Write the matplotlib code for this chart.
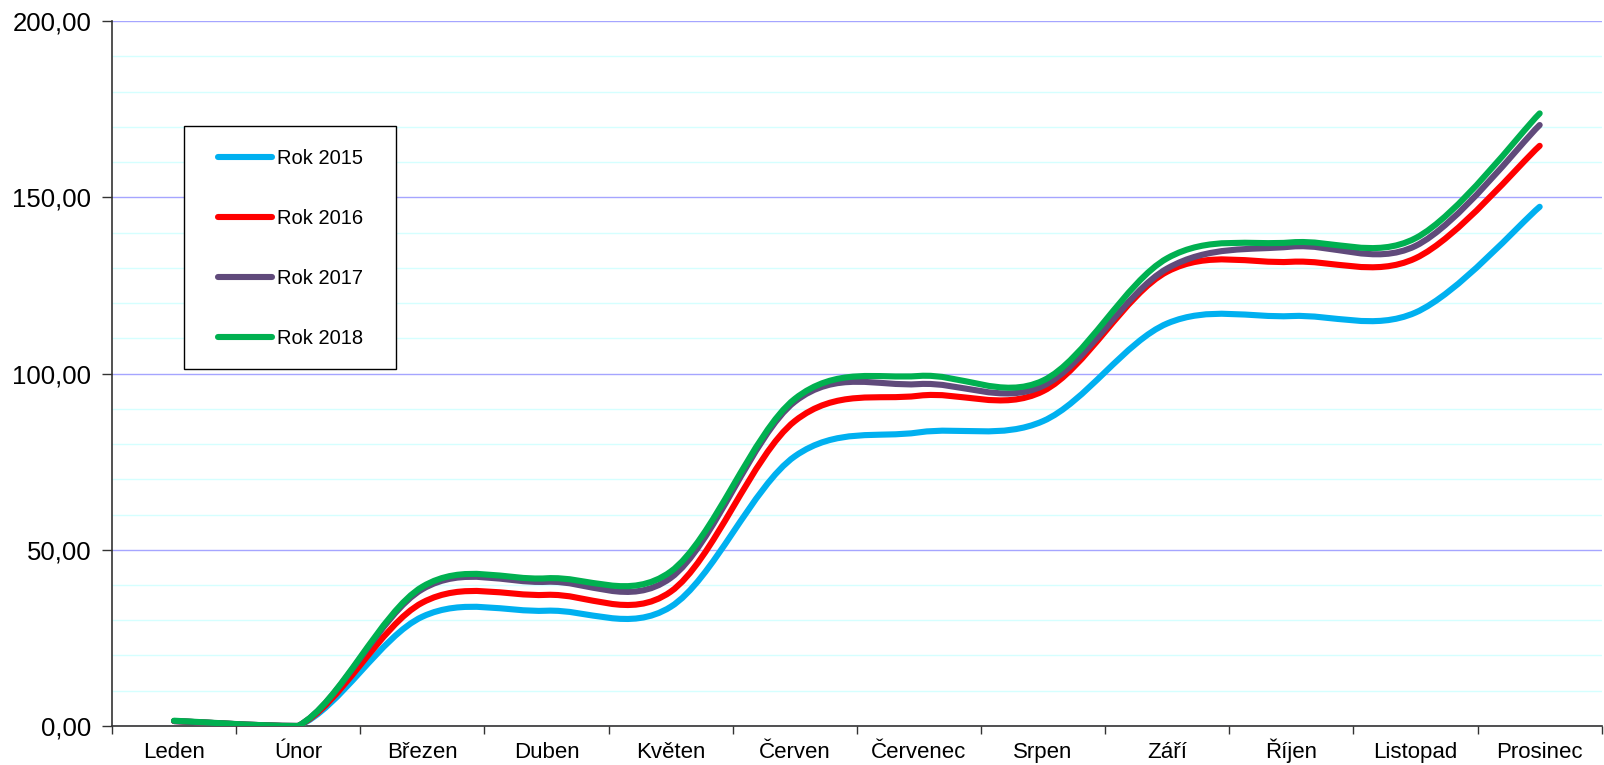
"""
Kumulativní křivky po měsících, roky 2015-2018 (vyhlazené čáry jako v Excelu).
"""
import matplotlib

matplotlib.use("Agg")
import matplotlib.pyplot as plt
import numpy as np
from matplotlib.lines import Line2D
from matplotlib.patches import PathPatch, Rectangle
from matplotlib.path import Path
from matplotlib.ticker import FixedLocator, FuncFormatter, MultipleLocator

plt.rcParams["font.family"] = ["Liberation Sans", "DejaVu Sans"]

months = ["Leden", "Únor", "Březen", "Duben", "Květen", "Červen",
          "Červenec", "Srpen", "Září", "Říjen", "Listopad", "Prosinec"]

rok_2015 = [1.4, 0.0, 31.0, 32.7, 33.8, 76.5, 83.3, 86.5, 114.2, 116.3, 117.3, 147.3]
rok_2016 = [1.4, 0.0, 35.0, 37.2, 38.1, 86.5, 93.7, 95.0, 128.9, 131.7, 132.7, 164.6]
rok_2017 = [1.4, 0.0, 38.8, 40.9, 42.0, 92.0, 97.0, 96.5, 129.8, 136.0, 136.2, 170.5]
rok_2018 = [1.5, 0.0, 39.5, 41.9, 43.8, 92.8, 99.3, 98.0, 132.7, 137.2, 138.4, 173.8]

series = [("Rok 2015", rok_2015, "#00B0F0"),
          ("Rok 2016", rok_2016, "#FF0000"),
          ("Rok 2017", rok_2017, "#604A7B"),
          ("Rok 2018", rok_2018, "#00B050")]

Y_MIN, Y_MAX = 0, 200


def smooth_path(xs, ys):
    # Bezier through every point, tangents like Excel's smoothed line;
    # control points kept above the axis floor so the curve doesn't dip under 0
    pts = np.column_stack([xs, ys]).astype(float)
    n = len(pts)
    verts = [pts[0]]
    codes = [Path.MOVETO]
    for i in range(n - 1):
        p_prev = pts[i - 1] if i > 0 else pts[i]
        p_next = pts[i + 2] if i + 2 < n else pts[i + 1]
        c1 = pts[i] + (pts[i + 1] - p_prev) / 6
        c2 = pts[i + 1] - (p_next - pts[i]) / 6
        c1[1] = max(c1[1], Y_MIN)
        c2[1] = max(c2[1], Y_MIN)
        verts += [c1, c2, pts[i + 1]]
        codes += [Path.CURVE4] * 3
    return Path(verts, codes)


fig = plt.figure(figsize=(16.04, 7.65), dpi=100)
ax = fig.add_axes([0.0698, 0.051, 0.9288, 0.9215])

x = np.arange(len(months))
handles = []
for label, vals, color in series:
    patch = PathPatch(smooth_path(x, vals), fill=False, edgecolor=color,
                      lw=4.4, capstyle="round", joinstyle="round", zorder=3)
    ax.add_patch(patch)
    handles.append(Line2D([], [], color=color, lw=4.4, solid_capstyle="round", label=label))

ax.set_xlim(-0.5, len(months) - 0.5)
ax.set_ylim(Y_MIN, Y_MAX)

# x axis: ticks between months, labels in the middle
ax.xaxis.set_major_locator(FixedLocator(np.arange(-0.5, len(months), 1.0)))
ax.xaxis.set_major_formatter(FuncFormatter(lambda v, p: ""))
ax.xaxis.set_minor_locator(FixedLocator(x))
ax.set_xticklabels(months, minor=True)
ax.tick_params(axis="x", which="major", length=6, width=1, color="#333333")
ax.tick_params(axis="x", which="minor", length=0, pad=23, labelsize=16)
for t in ax.get_xticklabels(minor=True):
    t.set_verticalalignment("baseline")

# y axis: comma decimals, blue major grid, cyan minor grid
ax.yaxis.set_major_locator(MultipleLocator(50))
ax.yaxis.set_minor_locator(MultipleLocator(10))
ax.yaxis.set_major_formatter(FuncFormatter(lambda v, p: f"{v:.2f}".replace(".", ",")))
ax.tick_params(axis="y", which="major", length=7, width=1, color="#333333", pad=8, labelsize=18.5)
ax.tick_params(axis="y", which="minor", length=0)
ax.grid(axis="y", which="major", color="#A5A5FF", lw=1.0, zorder=0)
ax.grid(axis="y", which="minor", color="#D5FFFF", lw=1.0, zorder=0)
ax.set_axisbelow(True)

for side in ("top", "right"):
    ax.spines[side].set_visible(False)
for side in ("left", "bottom"):
    ax.spines[side].set_color("#333333")
    ax.spines[side].set_linewidth(1.2)

# legend box drawn separately so its padding can match the original
ax.add_patch(Rectangle((0.0485, 0.5064), 0.1419, 0.3451, transform=ax.transAxes,
                       facecolor="white", edgecolor="black", lw=1.0, zorder=4))
leg = ax.legend(handles=handles, loc="upper left", bbox_to_anchor=(0.0712, 0.8185),
                borderaxespad=0, borderpad=0, fontsize=14.5, frameon=False,
                handlelength=2.7, handletextpad=0.22, labelspacing=2.04)
leg.set_zorder(5)

fig.savefig("out.png", dpi=100)
